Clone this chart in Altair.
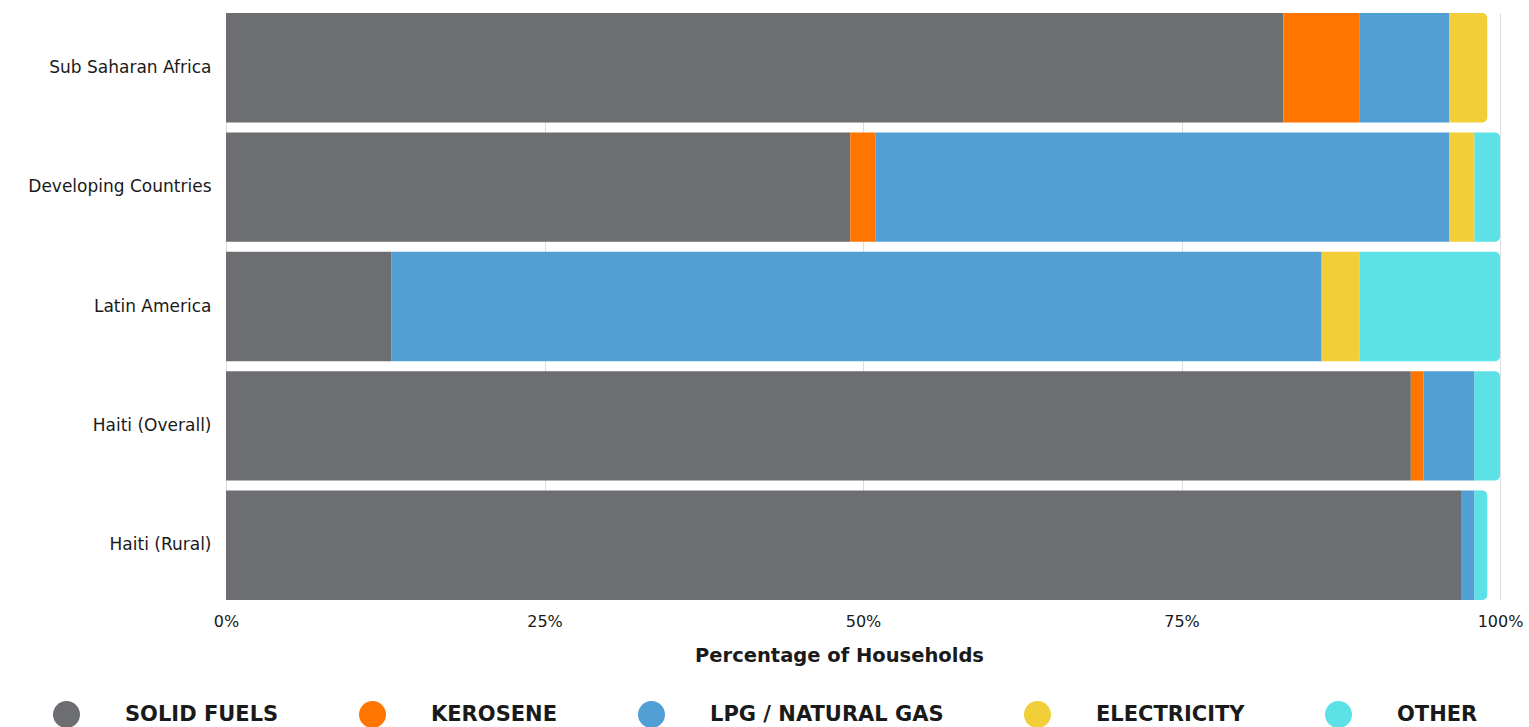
import altair as alt
import pandas as pd

regions = ["Sub Saharan Africa", "Developing Countries", "Latin America",
           "Haiti (Overall)", "Haiti (Rural)"]
fuels = ["Solid Fuels", "Kerosene", "LPG / Natural Gas", "Electricity", "Other"]
solid_fuels = [83, 49, 13, 93, 97]
kerosene = [6, 2, 0, 1, 0]
lpg_natural_gas = [7, 45, 73, 4, 1]
electricity = [3, 2, 3, 0, 0]
other = [0, 2, 11, 2, 1]
colors = ["#6d6e72", "#ff7500", "#529fd6", "#f2cf38", "#5ce1e6"]
x_ticks = [0, 25, 50, 75, 100]

series = [solid_fuels, kerosene, lpg_natural_gas, electricity, other]
rows = []
for i, region in enumerate(regions):
    start = 0
    segs = []
    for j, fuel in enumerate(fuels):
        v = series[j][i]
        if v > 0:
            segs.append({"region": region, "fuel": fuel, "order": j,
                         "start": start, "end": start + v})
            start += v
    for k, s in enumerate(segs):
        s["last"] = k == len(segs) - 1
        rows.append(s)
df = pd.DataFrame(rows)

FONT = "DejaVu Sans"
INK = "#1a1a1a"

color = alt.Color("fuel:N",
                  scale=alt.Scale(domain=fuels, range=colors),
                  legend=alt.Legend(orient="none", legendX=-173, legendY=688,
                                    direction="horizontal", title=None,
                                    symbolType="circle", symbolSize=729,
                                    symbolStrokeWidth=0, symbolOpacity=1,
                                    labelFont=FONT, labelFontSize=21,
                                    labelFontWeight="bold", labelColor=INK,
                                    labelOffset=45, columnPadding=80, padding=0,
                                    labelExpr="upper(datum.label)",
                                    labelLimit=400))

x = alt.X("start:Q",
          scale=alt.Scale(domain=[0, 100], nice=False),
          axis=alt.Axis(values=x_ticks, labelExpr="datum.value + '%'",
                        grid=True, gridColor="#dddddd", gridWidth=1,
                        domain=False, ticks=False, labelFlush=False,
                        labelPadding=13, labelFont=FONT, labelFontSize=16,
                        labelColor=INK,
                        title="Percentage of Households", titleFont=FONT,
                        titleFontSize=19.5, titleFontWeight="bold",
                        titleColor=INK, titleX=613, titleY=55,
                        titleAlign="center", titleBaseline="middle"))
y = alt.Y("region:N", sort=regions,
          scale=alt.Scale(paddingInner=0.084, paddingOuter=0),
          axis=alt.Axis(title=None, domain=False, ticks=False, labelPadding=15,
                        labelFont=FONT, labelFontSize=17, labelLimit=300,
                        labelColor=INK))

base = alt.Chart(df)
body = base.transform_filter("!datum.last").mark_bar().encode(
    x=x, x2="end:Q", y=y, color=color)
tail = base.transform_filter("datum.last").mark_bar(
    cornerRadiusTopRight=5, cornerRadiusBottomRight=5).encode(
    x=x, x2="end:Q", y=y, color=color)

chart = alt.layer(body, tail).properties(
    width=1274, height=587,
    autosize=alt.AutoSizeParams(type="none"),
    padding={"left": 226, "top": 13, "right": 29, "bottom": 127},
).configure_view(stroke=None)

chart.save("out.html", embed_options={"renderer": "svg", "actions": False})
